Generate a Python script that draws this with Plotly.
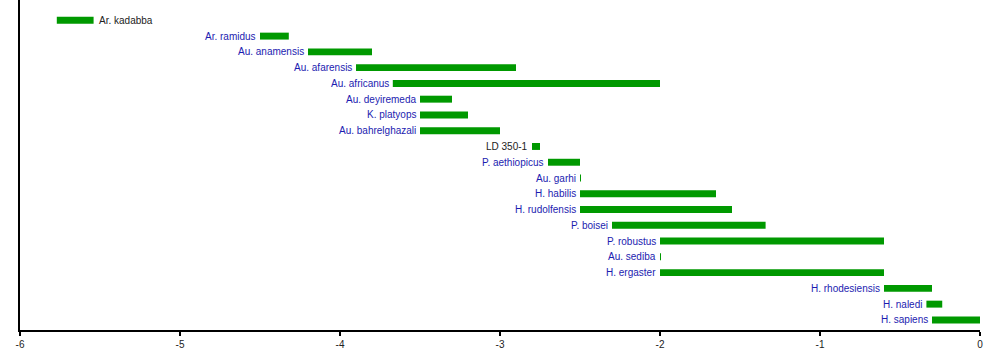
import plotly.graph_objects as go

species = ["Ar. kadabba", "Ar. ramidus", "Au. anamensis", "Au. afarensis", "Au. africanus",
           "Au. deyiremeda", "K. platyops", "Au. bahrelghazali", "LD 350-1", "P. aethiopicus",
           "Au. garhi", "H. habilis", "H. rudolfensis", "P. boisei", "P. robustus",
           "Au. sediba", "H. ergaster", "H. rhodesiensis", "H. naledi", "H. sapiens"]
start_mya = [-5.77, -4.50, -4.20, -3.90, -3.67, -3.50, -3.50, -3.50, -2.80, -2.70,
             -2.50, -2.50, -2.50, -2.30, -2.00, -2.00, -2.00, -0.60, -0.335, -0.30]
end_mya = [-5.54, -4.32, -3.80, -2.90, -2.00, -3.30, -3.20, -3.00, -2.75, -2.50,
           -2.494, -1.65, -1.55, -1.34, -0.60, -1.994, -0.60, -0.30, -0.236, 0.0]
unlinked = ["Ar. kadabba", "LD 350-1"]
x_ticks = [-6, -5, -4, -3, -2, -1, 0]

rows = list(range(len(species)))
fig = go.Figure()
fig.add_trace(go.Bar(
    y=rows,
    x=[e - s for s, e in zip(start_mya, end_mya)],
    base=start_mya,
    orientation="h",
    width=0.44,
    marker=dict(color="#009900", line=dict(width=0)),
    hoverinfo="skip",
))

annotations = []
for i, (name, s, e) in enumerate(zip(species, start_mya, end_mya)):
    col = "#222222" if name in unlinked else "#1c1cb0"
    if s < -5.5:
        annotations.append(dict(x=e, y=i, xref="x", yref="y", text=name, showarrow=False,
                                xanchor="left", xshift=3, font=dict(color=col, size=10,
                                family="Liberation Sans, Arial, sans-serif")))
    else:
        annotations.append(dict(x=s, y=i, xref="x", yref="y", text=name, showarrow=False,
                                xanchor="right", xshift=-2, font=dict(color=col, size=10,
                                family="Liberation Sans, Arial, sans-serif")))

fig.update_layout(
    width=1000, height=350,
    margin=dict(l=20, r=20, t=0, b=20),
    paper_bgcolor="white", plot_bgcolor="white",
    showlegend=False,
    annotations=annotations,
    font=dict(family="Liberation Sans, Arial, sans-serif", size=10, color="#222222"),
    xaxis=dict(range=[-6, 0], tickvals=x_ticks, ticktext=[str(t) for t in x_ticks],
               showgrid=False, zeroline=False, showline=True, linecolor="black", linewidth=1.5,
               ticks="outside", ticklen=4, tickcolor="black", tickwidth=1.5),
    yaxis=dict(range=[19.64, -1.29], showgrid=False, zeroline=False, showticklabels=False,
               showline=True, linecolor="black", linewidth=1.5, ticks=""),
)

fig.write_html("out.html")
